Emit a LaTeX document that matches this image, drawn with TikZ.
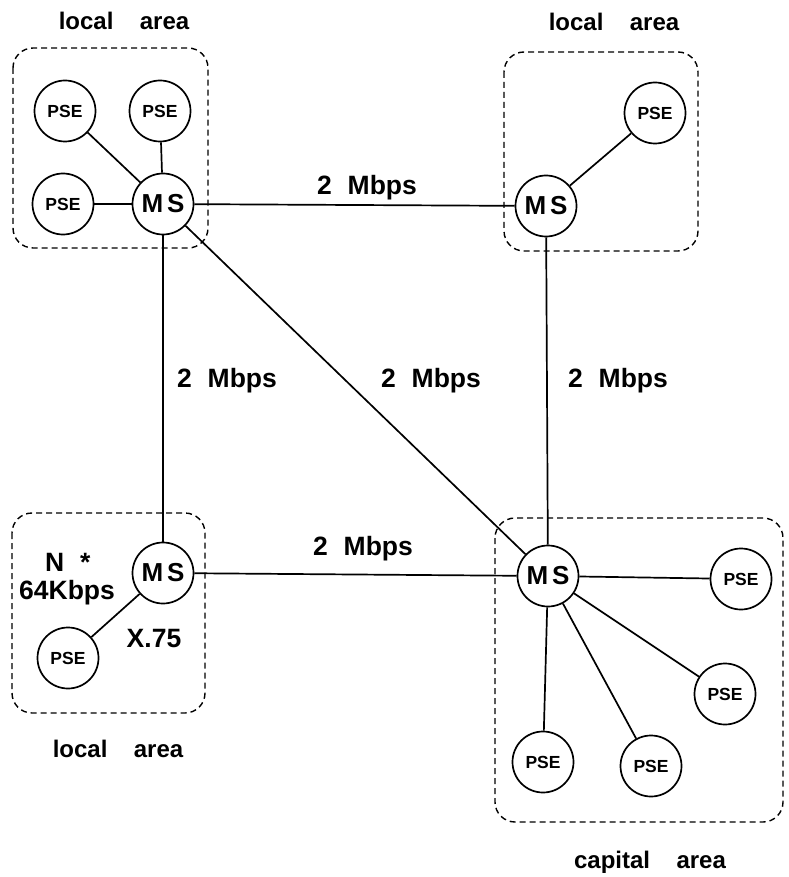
\documentclass[tikz,border=0pt]{standalone}
\usepackage{fontspec}
\setmainfont{Liberation Sans}
\begin{document}
\begin{tikzpicture}[x=1pt,y=-1pt,
  switch/.style={circle,draw,fill=white,line width=1.7pt,minimum size=61pt,inner sep=0pt,
    font=\fontsize{26}{26}\selectfont\bfseries},
  pse/.style={circle,draw,fill=white,line width=1.7pt,minimum size=61pt,inner sep=0pt,
    font=\fontsize{17.5}{17.5}\selectfont\bfseries},
  area/.style={draw,dash pattern=on 6pt off 4pt,line width=1.4pt,rounded corners=20pt},
  link/.style={line width=1.7pt},
  lbl/.style={font=\fontsize{26.5}{26.5}\selectfont\bfseries,inner sep=0pt},
  arealbl/.style={font=\fontsize{24}{24}\selectfont\bfseries,inner sep=0pt},
]
\useasboundingbox (0,0) rectangle (788,877);

% dashed area outlines
\draw[area] (13,48) rectangle (208,248);
\draw[area] (504,52) rectangle (698,251);
\draw[area] (12,513) rectangle (205,713);
\draw[area] (495,518) rectangle (783,822);

% area captions
\node[arealbl] (capTL) at (124,21) {local\hspace{1.1em}area};
\node[arealbl] (capTR) at (614,22) {local\hspace{1.1em}area};
\node[arealbl] (capBL) at (118,749) {local\hspace{1.1em}area};
\node[arealbl] (capBR) at (650,862) {capital\hspace{1.1em}area};

% main switches
\node[switch] (msTL) at (163,204) {M\hspace{4pt}S};
\node[switch] (msTR) at (546,206) {M\hspace{4pt}S};
\node[switch] (msBL) at (163,573) {M\hspace{4pt}S};
\node[switch] (msBR) at (548,576) {M\hspace{4pt}S};

% packet switching exchanges
\node[pse] (p1) at (65,111) {PSE};
\node[pse] (p2) at (160,111) {PSE};
\node[pse] (p3) at (63,204) {PSE};
\node[pse] (p4) at (655,113) {PSE};
\node[pse] (p5) at (68,658) {PSE};
\node[pse] (p6) at (741,579) {PSE};
\node[pse] (p7) at (725,694) {PSE};
\node[pse] (p8) at (543,762) {PSE};
\node[pse] (p9) at (651,766) {PSE};

% trunk lines between switches
\draw[link] (msTL) -- (msTR);
\draw[link] (msTL) -- (msBL);
\draw[link] (msTL) -- (msBR);
\draw[link] (msTR) -- (msBR);
\draw[link] (msBL) -- (msBR);

% access lines
\draw[link] (p1) -- (msTL);
\draw[link] (p2) -- (msTL);
\draw[link] (p3) -- (msTL);
\draw[link] (p4) -- (msTR);
\draw[link] (p5) -- (msBL);
\draw[link] (msBR) -- (p6);
\draw[link] (msBR) -- (p7);
\draw[link] (msBR) -- (p8);
\draw[link] (msBR) -- (p9);

% line rates
\node[lbl] (rTop) at (367,188) {2\hspace{0.6em}Mbps};
\node[lbl] (rLeft) at (227,381) {2\hspace{0.6em}Mbps};
\node[lbl] (rDiag) at (431,381) {2\hspace{0.6em}Mbps};
\node[lbl] (rRight) at (618,381) {2\hspace{0.6em}Mbps};
\node[lbl] (rBot) at (363,549) {2\hspace{0.6em}Mbps};

% local access annotations
\node[lbl,anchor=west] (nstar) at (45,562) {N\hspace{0.6em}*};
\node[lbl,anchor=west] (kbps) at (19,593) {64Kbps};
\node[lbl] (x75) at (154,639) {X.75};
\end{tikzpicture}
\end{document}
